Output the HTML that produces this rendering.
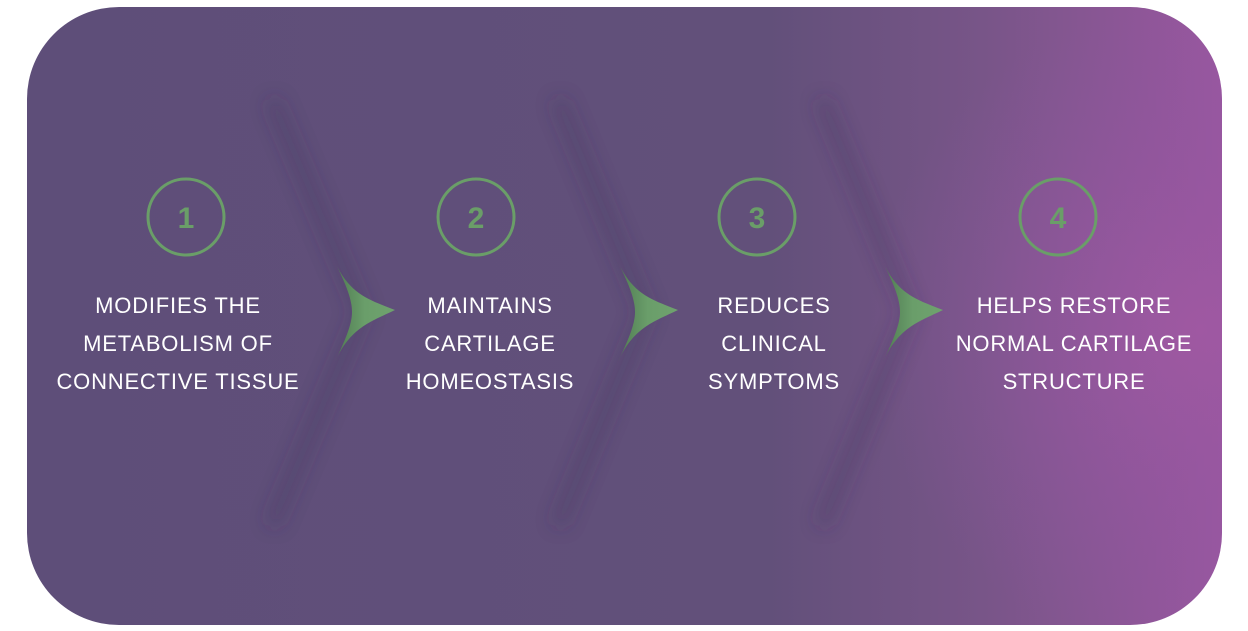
<!DOCTYPE html>
<html><head><style>
html,body{margin:0;padding:0;background:#fff;}
svg{display:block}
text{font-family:"Liberation Sans",sans-serif;}
</style></head><body>
<svg width="1248" height="631" viewBox="0 0 1248 631" xmlns="http://www.w3.org/2000/svg">
<defs>
<linearGradient id="bg" x1="0" y1="0" x2="1" y2="0">
<stop offset="0" stop-color="#5e4e79"/>
<stop offset="0.62" stop-color="#62507a"/>
<stop offset="0.8" stop-color="#785588"/>
<stop offset="1" stop-color="#9a57a0"/>
</linearGradient>
<radialGradient id="glow" cx="1200" cy="330" r="330" gradientUnits="userSpaceOnUse">
<stop offset="0" stop-color="#a058a2" stop-opacity="0.9"/>
<stop offset="1" stop-color="#8a56a0" stop-opacity="0"/>
</radialGradient>
<clipPath id="cl"><rect x="27" y="7" width="1195" height="618" rx="92"/></clipPath>
<filter id="bl" x="-50%" y="-20%" width="200%" height="140%"><feGaussianBlur stdDeviation="9"/></filter>
<linearGradient id="gr" x1="0" y1="0" x2="1" y2="0">
<stop offset="0" stop-color="#4f7a52"/><stop offset="0.5" stop-color="#6a9e6a"/><stop offset="1" stop-color="#6fa26e"/>
</linearGradient>
</defs>
<rect x="27" y="7" width="1195" height="618" rx="92" fill="url(#bg)"/>
<g clip-path="url(#cl)">
<rect x="800" y="7" width="430" height="618" fill="url(#glow)"/>
<g fill="none" stroke="#3f3258" stroke-opacity="0.35" stroke-width="12" filter="url(#bl)">
<polyline points="262,100 352,312 262,525" transform="translate(10,0)"/>
<polyline points="548,100 636,312 548,525" transform="translate(10,0)"/>
<polyline points="812,100 900,312 812,525" transform="translate(10,0)"/>
</g>
<g fill="url(#gr)">
<path d="M335,262 C350,295 370,300 395,310 C370,322 350,328 335,362 C345,340 352,325 352,312 C352,298 345,283 335,262Z"/>
<path d="M618,262 C633,295 653,300 678,310 C653,322 633,328 618,362 C628,340 635,325 635,312 C635,298 628,283 618,262Z"/>
<path d="M883,262 C898,295 918,300 943,310 C918,322 898,328 883,362 C893,340 900,325 900,312 C900,298 893,283 883,262Z"/>
</g>
</g>
<g fill="none" stroke="#6a9e68" stroke-width="3">
<circle cx="186" cy="217" r="38"/><circle cx="476" cy="217" r="38"/>
<circle cx="757" cy="217" r="38"/><circle cx="1058" cy="217" r="38"/>
</g>
<g fill="#6a9e68" font-size="30" font-weight="bold" text-anchor="middle">
<text x="186" y="228">1</text><text x="476" y="228">2</text>
<text x="757" y="228">3</text><text x="1058" y="228">4</text>
</g>
<g fill="#fff" font-size="22" text-anchor="middle" letter-spacing="0.8">
<text x="178" y="313">MODIFIES THE</text>
<text x="178" y="351">METABOLISM OF</text>
<text x="178" y="389">CONNECTIVE TISSUE</text>
<text x="490" y="313">MAINTAINS</text>
<text x="490" y="351">CARTILAGE</text>
<text x="490" y="389">HOMEOSTASIS</text>
<text x="774" y="313">REDUCES</text>
<text x="774" y="351">CLINICAL</text>
<text x="774" y="389">SYMPTOMS</text>
<text x="1074" y="313">HELPS RESTORE</text>
<text x="1074" y="351">NORMAL CARTILAGE</text>
<text x="1074" y="389">STRUCTURE</text>
</g>
</svg>
</body></html>
